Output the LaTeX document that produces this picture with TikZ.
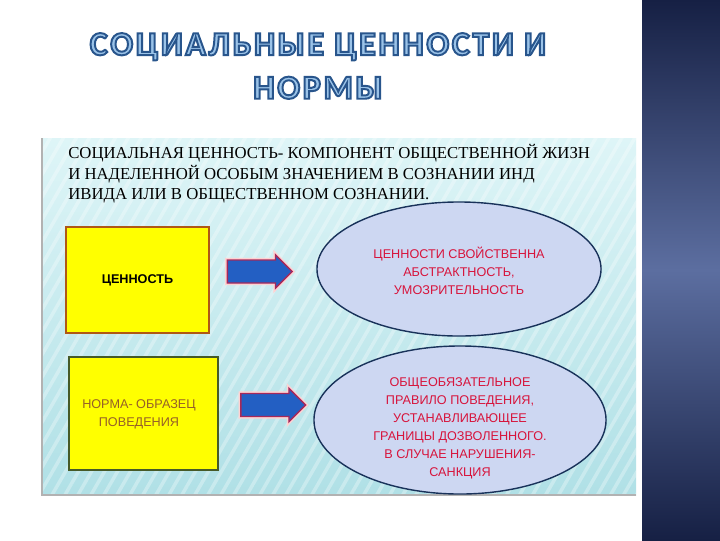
\documentclass[tikz,border=0pt]{standalone}
\usepackage{fontspec}
\setmainfont{Liberation Serif}
\setsansfont{Liberation Sans}
\newfontfamily\titlefont[LetterSpace=8]{Carlito}
\usetikzlibrary{shapes.arrows,shapes.geometric,patterns.meta}

\definecolor{bandDark}{RGB}{22,32,68}
\definecolor{bandLight}{RGB}{92,110,160}
\definecolor{panelTop}{RGB}{222,245,247}
\definecolor{panelBot}{RGB}{176,224,230}
\definecolor{titleFill}{RGB}{155,195,232}
\definecolor{boxYellow}{RGB}{255,255,0}
\definecolor{boxRimA}{RGB}{176,88,20}
\definecolor{boxRimB}{RGB}{70,90,40}
\definecolor{normText}{RGB}{150,95,40}
\definecolor{ovalFill}{RGB}{205,215,242}
\definecolor{ovalRim}{RGB}{25,50,90}
\definecolor{ovalText}{RGB}{215,20,60}
\definecolor{arrowFill}{RGB}{35,95,195}
\definecolor{arrowRim}{RGB}{165,40,90}

% outlined title letters (stroke colour 40,85,140)
\newcommand\outlined[1]{\textcolor{titleFill}{\special{pdf:literal direct 2 Tr 1.4 w 0.157 0.333 0.549 RG}#1\special{pdf:literal direct 0 Tr}}}

\begin{document}
\begin{tikzpicture}[x=0.025cm,y=-0.025cm,
  valuebox/.style={draw=#1,line width=1.2pt,fill=boxYellow,inner sep=0pt},
  oval/.style={ellipse,draw=ovalRim,line width=1pt,fill=ovalFill,inner sep=0pt},
  blockarrow/.style={single arrow,draw=arrowRim,line width=1pt,fill=arrowFill,
                     preaction={draw=pink!70,line width=3pt},
                     inner xsep=0pt,inner ysep=0.27cm,minimum height=1.62cm,
                     single arrow head extend=0.13cm},
  ovaltext/.style={font=\sffamily\fontsize{9}{12.9}\selectfont,text=ovalText,align=center}
]
\useasboundingbox (0,0) rectangle (720,540);
\fill[white] (0,0) rectangle (720,540);

% right band
\shade[top color=bandDark,bottom color=bandDark,middle color=bandLight] (642,0) rectangle (720,540);

% title
\node[font=\titlefont\bfseries\fontsize{24}{31}\selectfont,align=center] (title) at (318,66)
  {\outlined{СОЦИАЛЬНЫЕ ЦЕННОСТИ И}\\ \outlined{НОРМЫ}};

% panel
\shade[top color=panelTop,bottom color=panelBot] (42,138) rectangle (636,495);
\fill[pattern={Lines[angle=60,distance=8pt,line width=2.5pt]},pattern color=white,opacity=0.3]
  (42,138) rectangle (636,495);
\draw[gray!60,line width=0.8pt] (42,138) -- (42,495) -- (636,495);

\node[anchor=north west,align=left,font=\fontsize{11.9}{14.7}\selectfont,inner sep=0pt] (defn) at (68,144)
  {СОЦИАЛЬНАЯ ЦЕННОСТЬ- КОМПОНЕНТ ОБЩЕСТВЕННОЙ ЖИЗН\\
   И НАДЕЛЕННОЙ ОСОБЫМ ЗНАЧЕНИЕМ В СОЗНАНИИ  ИНД\\
   ИВИДА ИЛИ  В ОБЩЕСТВЕННОМ СОЗНАНИИ.};

% left boxes
\node[valuebox=boxRimA,minimum width=3.575cm,minimum height=2.65cm,
      font=\sffamily\bfseries\fontsize{9}{11}\selectfont] (value) at (137.5,280) {ЦЕННОСТЬ};
\node[valuebox=boxRimB,minimum width=3.725cm,minimum height=2.825cm] (norm) at (143.5,413.5) {};
\node[font=\sffamily\fontsize{9}{12.8}\selectfont,text=normText,align=center] (normtxt) at (139,414)
  {НОРМА- ОБРАЗЕЦ\\ ПОВЕДЕНИЯ};

% arrows
\node[blockarrow] (arrA) at (254,271.5) {};
\node[blockarrow] (arrB) at (267.5,405) {};

% ovals
\node[oval,minimum width=7.1cm,minimum height=3.35cm] (traits) at (459,269) {};
\node[ovaltext] at ([yshift=-1.5pt]traits.center)
  {ЦЕННОСТИ  СВОЙСТВЕННА\\ АБСТРАКТНОСТЬ,\\ УМОЗРИТЕЛЬНОСТЬ};
\node[oval,minimum width=7.3cm,minimum height=3.7cm] (rule) at (460,420) {};
\node[ovaltext] at ([yshift=-6pt]rule.center)
  {ОБЩЕОБЯЗАТЕЛЬНОЕ\\ ПРАВИЛО ПОВЕДЕНИЯ,\\ УСТАНАВЛИВАЮЩЕЕ\\ ГРАНИЦЫ ДОЗВОЛЕННОГО.\\
   В СЛУЧАЕ  НАРУШЕНИЯ-\\ САНКЦИЯ};
\end{tikzpicture}
\end{document}
